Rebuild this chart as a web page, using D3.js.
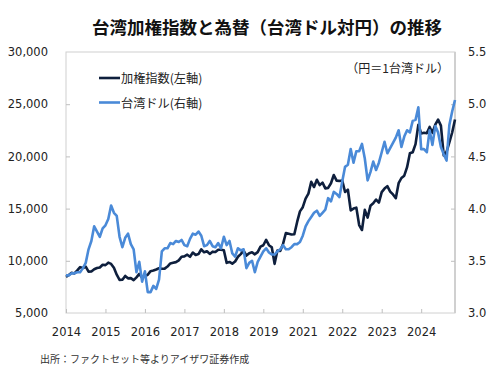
<!DOCTYPE html>
<html>
<head>
<meta charset="utf-8">
<script src="https://cdn.jsdelivr.net/npm/d3@7"></script>
<style>
  html, body { margin: 0; padding: 0; background: #ffffff; }
  svg { display: block; }
  text { font-family: "DejaVu Sans", "Noto Sans CJK JP", sans-serif; }
  .cjk { font-family: "Noto Sans CJK JP", "Noto Sans", sans-serif; }
</style>
</head>
<body>
<div id="chart"></div>
<script>
// ---- Data (month-end, Jan 2014 - Jul 2025) ----
const startMonth = "2014-01";
const endMonth = "2025-07";

const taiex = [
  8463, 8640, 8849, 8791, 9076, 9393, 9316, 9436, 8967, 8975, 9187, 9307,
  9362, 9622, 9586, 9820, 9701, 9323, 8665, 8175, 8181, 8554, 8320, 8338,
  8145, 8411, 8745, 8378, 8536, 8667, 9008, 9069, 9167, 9290, 9241, 9254,
  9448, 9751, 9812, 9872, 10041, 10395, 10427, 10586, 10384, 10794, 10560, 10643,
  11104, 10816, 10919, 10658, 10875, 10837, 11057, 11064, 11006, 9802, 9888, 9727,
  9932, 10389, 10641, 10968, 10499, 10731, 10824, 10618, 10830, 11359, 11490, 11997,
  11495, 11292, 9708, 10992, 10942, 11621, 12665, 12592, 12516, 12546, 13723, 14733,
  15138, 15954, 16431, 17567, 17068, 17756, 17247, 17490, 16935, 16987, 17428, 18219,
  17674, 17652, 17694, 16592, 16808, 14826, 15000, 15095, 13425, 12950, 14880, 14138,
  15265, 15504, 15868, 15579, 16579, 16916, 17145, 16635, 16354, 16001, 17434, 17931,
  18151, 18966, 20294, 20397, 21174, 23032, 22199, 22269, 22224, 22820, 22263, 23035,
  23525, 22944, 20100, 20435, 21348, 22288, 23542
];

const twdjpy = [
  3.36, 3.36, 3.38, 3.38, 3.39, 3.39, 3.43, 3.48, 3.61, 3.69, 3.83, 3.78,
  3.73, 3.81, 3.84, 3.90, 4.03, 3.96, 3.93, 3.73, 3.63, 3.72, 3.76, 3.66,
  3.61, 3.39, 3.49, 3.30, 3.40, 3.20, 3.20, 3.26, 3.23, 3.32, 3.59, 3.62,
  3.62, 3.67, 3.66, 3.69, 3.68, 3.70, 3.65, 3.64, 3.71, 3.76, 3.75, 3.78,
  3.74, 3.64, 3.65, 3.69, 3.64, 3.63, 3.67, 3.62, 3.73, 3.65, 3.69, 3.57,
  3.54, 3.62, 3.60, 3.61, 3.43, 3.48, 3.50, 3.39, 3.49, 3.54, 3.59, 3.62,
  3.58, 3.56, 3.56, 3.59, 3.61, 3.65, 3.61, 3.61, 3.63, 3.66, 3.66, 3.68,
  3.74, 3.83, 3.88, 3.92, 3.96, 3.98, 3.93, 3.96, 3.99, 4.10, 4.07, 4.16,
  4.14, 4.11, 4.26, 4.40, 4.42, 4.57, 4.44, 4.55, 4.55, 4.62, 4.48, 4.27,
  4.35, 4.45, 4.37, 4.44, 4.54, 4.64, 4.53, 4.58, 4.63, 4.68, 4.75, 4.59,
  4.69, 4.75, 4.73, 4.84, 4.85, 4.97, 4.57, 4.57, 4.54, 4.75, 4.61, 4.79,
  4.73, 4.59, 4.52, 4.46, 4.80, 4.93, 5.04
];

const leftTicks = [5000, 10000, 15000, 20000, 25000, 30000];
const rightTicks = [3.0, 3.5, 4.0, 4.5, 5.0, 5.5];
const xTickLabels = ["2014", "2015", "2016", "2017", "2018", "2019", "2021", "2022", "2023", "2024"];
const xTickEvery = 14; // category interval between labels

const titleText = "台湾加権指数と為替（台湾ドル対円）の推移";
const seriesNames = ["加権指数(左軸)", "台湾ドル(右軸)"];
const unitNote = "（円＝1台湾ドル）";
const sourceText = "出所：ファクトセット等よりアイザワ証券作成";

// ---- Build categories ----
const parseM = d3.timeParse("%Y-%m");
const fmtM = d3.timeFormat("%Y-%m");
const categories = d3.timeMonth.range(parseM(startMonth), d3.timeMonth.offset(parseM(endMonth), 1)).map(fmtM);

// ---- Layout ----
const W = 500, H = 383;
const plot = { left: 66, right: 455, top: 52, bottom: 313 };
const darkColor = "#0e1f3d";
const blueColor = "#4a8ad8";
const textColor = "#222222";
const gridColor = "#d0d0d0";

const svg = d3.select("#chart").append("svg")
  .attr("width", W).attr("height", H);
svg.append("rect").attr("width", W).attr("height", H).attr("fill", "#ffffff");

const x = d3.scalePoint().domain(categories).range([plot.left, plot.right]).padding(0);
const yL = d3.scaleLinear().domain([5000, 30000]).range([plot.bottom, plot.top]);
const yR = d3.scaleLinear().domain([3.0, 5.5]).range([plot.bottom, plot.top]);

// Plot border
svg.append("rect")
  .attr("x", plot.left).attr("y", plot.top)
  .attr("width", plot.right - plot.left).attr("height", plot.bottom - plot.top)
  .attr("fill", "none").attr("stroke", gridColor).attr("stroke-width", 1);
svg.append("line")
  .attr("x1", plot.right).attr("x2", plot.right)
  .attr("y1", plot.top).attr("y2", plot.bottom)
  .attr("stroke", gridColor).attr("stroke-width", 2);

function styleAxis(g) {
  g.select(".domain").remove();
  g.selectAll(".tick line").attr("stroke", "#bfbfbf");
  g.selectAll(".tick text").attr("fill", textColor).style("font-size", "11.5px")
    .style("font-family", '"DejaVu Sans", sans-serif');
}

// Left axis
svg.append("g")
  .attr("transform", `translate(${plot.left},0)`)
  .call(d3.axisLeft(yL).tickValues(leftTicks).tickSizeInner(-4).tickSizeOuter(0).tickPadding(18)
    .tickFormat(d3.format(",")))
  .call(styleAxis)
  .call(g => g.selectAll(".tick").filter(d => d === 5000 || d === 30000).select("line").remove());

// Right axis
svg.append("g")
  .attr("transform", `translate(${plot.right},0)`)
  .call(d3.axisRight(yR).tickValues(rightTicks).tickSizeInner(-4).tickSizeOuter(0).tickPadding(13)
    .tickFormat(d3.format(".1f")))
  .call(styleAxis)
  .call(g => g.selectAll(".tick").filter(d => d === 3.0 || d === 5.5).select("line").remove());

// Bottom axis
const xTickValues = xTickLabels.map((_, i) => categories[i * xTickEvery]);
svg.append("g")
  .attr("transform", `translate(0,${plot.bottom})`)
  .call(d3.axisBottom(x).tickValues(xTickValues).tickSizeInner(-4).tickSizeOuter(0).tickPadding(15)
    .tickFormat((d, i) => xTickLabels[i]))
  .call(styleAxis);

// Lines
const lineL = d3.line().x((d, i) => x(categories[i])).y(d => yL(d));
const lineR = d3.line().x((d, i) => x(categories[i])).y(d => yR(d));

svg.append("path").datum(taiex)
  .attr("d", lineL).attr("fill", "none")
  .attr("stroke", darkColor).attr("stroke-width", 2.6).attr("stroke-linejoin", "round");
svg.append("path").datum(twdjpy)
  .attr("d", lineR).attr("fill", "none")
  .attr("stroke", blueColor).attr("stroke-width", 2.6).attr("stroke-linejoin", "round");

// Title
svg.append("text").attr("class", "cjk")
  .attr("x", 267).attr("y", 26).attr("text-anchor", "middle").attr("dominant-baseline", "central")
  .style("font-size", "17.5px").style("font-weight", "bold").attr("fill", "#111")
  .text(titleText);

// Legend
const legend = svg.append("g");
[darkColor, blueColor].forEach((c, i) => {
  const ly = 78 + i * 24.5;
  legend.append("line").attr("x1", 99).attr("x2", 120).attr("y1", ly).attr("y2", ly)
    .attr("stroke", c).attr("stroke-width", 2.6);
  legend.append("text").attr("class", "cjk").attr("x", 121).attr("y", ly)
    .attr("dominant-baseline", "central").style("font-size", "12.2px").attr("fill", textColor)
    .text(seriesNames[i]);
});

// Unit note
svg.append("text").attr("class", "cjk")
  .attr("x", 449).attr("y", 67).attr("text-anchor", "end").attr("dominant-baseline", "central")
  .style("font-size", "12px").attr("fill", textColor).text(unitNote);

// Source
svg.append("text").attr("class", "cjk")
  .attr("x", 40).attr("y", 358).attr("dominant-baseline", "central")
  .style("font-size", "10px").attr("fill", "#333").text(sourceText);
</script>
</body>
</html>
